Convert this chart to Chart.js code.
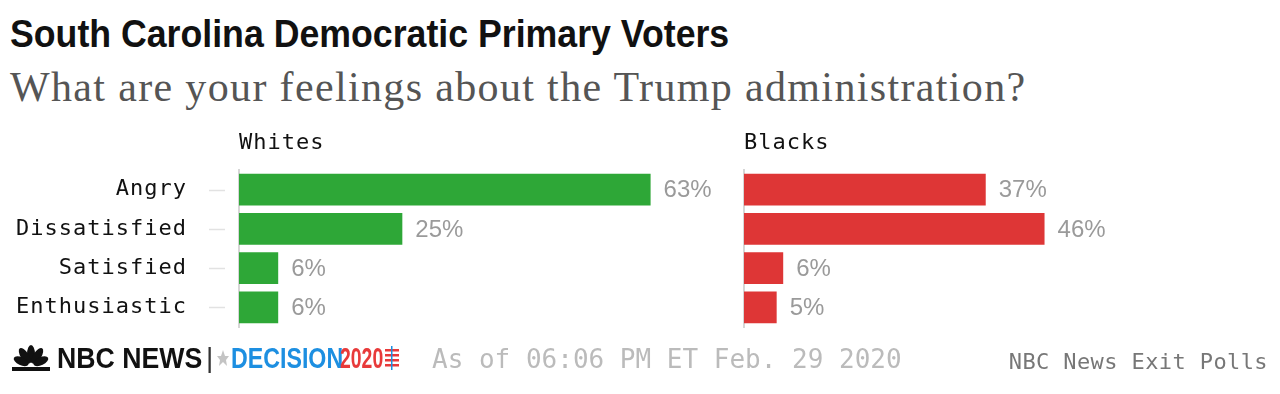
<!DOCTYPE html>
<html>
<head>
<meta charset="utf-8">
<script src="https://cdn.jsdelivr.net/npm/chart.js@4.4.1/dist/chart.umd.min.js"></script>
<style>
  body { margin: 0; width: 1280px; height: 394px; background: #fff; position: relative; overflow: hidden; }
  .title { position: absolute; left: 10px; top: 12px; font: bold 39px "Liberation Sans", sans-serif; color: #111; transform: scaleX(0.915); transform-origin: left top; white-space: nowrap; }
  .subtitle { position: absolute; left: 10px; top: 63px; font: 42px "Liberation Serif", serif; color: #555; letter-spacing: 1.35px; white-space: nowrap; }
  .panel { position: absolute; top: 125px; height: 219px; }
  .footer-logo { position: absolute; left: 10px; top: 343px; height: 30px; display: flex; align-items: center; white-space: nowrap; }
  .sq { display: inline-block; transform-origin: left center; }
  .nbc { font: bold 29px "Liberation Sans", sans-serif; color: #111; margin-left: 5px; }
  .bar { font: 28px "Liberation Sans", sans-serif; color: #333; }
  .dec { font: bold 29px "Liberation Sans", sans-serif; color: #1d8fe1; }
  .yr { font: bold 29px "Liberation Sans", sans-serif; color: #e83a3a; }
  .asof { position: absolute; left: 432px; top: 344px; font: 26px "DejaVu Sans Mono", monospace; color: #bbb; }
  .source { position: absolute; right: 12px; top: 349px; font: 22px "DejaVu Sans Mono", monospace; color: #777; letter-spacing: 0.4px; }
</style>
</head>
<body>
<div class="title">South Carolina Democratic Primary Voters</div>
<div class="subtitle">What are your feelings about the Trump administration?</div>

<div class="panel" style="left:0; width:729px;"><canvas id="whites"></canvas></div>
<div class="panel" style="left:704px; width:530px;"><canvas id="blacks"></canvas></div>

<div class="footer-logo">
  <svg width="42" height="28" viewBox="0 0 42 28">
    <g fill="#111">
      <ellipse cx="21" cy="10" rx="4" ry="9" transform="rotate(0 21 22)"/>
      <ellipse cx="21" cy="10" rx="4" ry="9" transform="rotate(-32 21 22)"/>
      <ellipse cx="21" cy="10" rx="4" ry="9" transform="rotate(32 21 22)"/>
      <ellipse cx="21" cy="11" rx="4" ry="8" transform="rotate(-64 21 22)"/>
      <ellipse cx="21" cy="11" rx="4" ry="8" transform="rotate(64 21 22)"/>
      <rect x="2" y="23" width="38" height="4"/>
    </g>
  </svg>
  <span class="sq nbc" style="width:141px;"><span class="sq" style="transform:scaleX(0.92)">NBC NEWS</span></span>
  <span class="bar" style="margin:0 4px 0 8px;">|</span>
  <svg width="12" height="24" viewBox="0 0 12 24"><polygon points="6,4 8,10 12,10 9,14 10,20 6,16 2,20 3,14 0,10 4,10" fill="#c4c4c4"/></svg>
  <span class="sq dec" style="width:109px; margin-left:2px;"><span class="sq" style="transform:scaleX(0.8)">DECISION</span></span>
  <span class="sq yr" style="width:45px;"><span class="sq" style="transform:scaleX(0.67)">2020</span></span>
  <svg width="14" height="24" viewBox="0 0 14 24">
    <g fill="#e83a3a"><rect y="3" width="14" height="2.5"/><rect y="8" width="14" height="2.5"/><rect y="13" width="14" height="2.5"/><rect y="18" width="14" height="2.5"/></g>
    <rect x="6" y="0" width="1.5" height="24" fill="#1d8fe1"/>
  </svg>
</div>
<div class="asof">As of 06:06 PM ET Feb. 29 2020</div>
<div class="source">NBC News Exit Polls</div>

<script>
const categories = ['Angry', 'Dissatisfied', 'Satisfied', 'Enthusiastic'];
const panelTitles = ['Whites', 'Blacks'];
const whitesValues = [63, 25, 6, 6];
const blacksValues = [37, 46, 6, 5];
const colors = ['#2ea737', '#de3636'];

// espacement des lettres pour les libellés monospace
const spacingPlugin = {
  id: 'spacing',
  beforeDraw(chart) { chart.ctx.letterSpacing = '1px'; }
};

// valeurs à droite des barres + petit tiret + titre du panneau
const decorPlugin = {
  id: 'decor',
  afterDatasetsDraw(chart, args, opts) {
    const ctx = chart.ctx;
    const meta = chart.getDatasetMeta(0);
    const yScale = chart.scales.y;
    ctx.save();
    ctx.letterSpacing = '0px';
    ctx.font = '24px "Liberation Sans", sans-serif';
    ctx.fillStyle = '#9a9a9a';
    ctx.textBaseline = 'middle';
    ctx.textAlign = 'left';
    meta.data.forEach((bar, i) => {
      ctx.fillText(chart.data.datasets[0].data[i] + '%', bar.x + 13, bar.y + 1);
    });
    if (opts.showTicks) {
      ctx.strokeStyle = '#e2e2e2';
      ctx.lineWidth = 1.5;
      categories.forEach((c, i) => {
        const y = Math.round(yScale.getPixelForTick(i)) + 0.5;
        ctx.beginPath();
        ctx.moveTo(chart.chartArea.left - 30, y);
        ctx.lineTo(chart.chartArea.left - 14, y);
        ctx.stroke();
      });
    }
    ctx.letterSpacing = '1px';
    ctx.font = '22px "DejaVu Sans Mono", monospace';
    ctx.fillStyle = '#111';
    ctx.fillText(opts.title, chart.chartArea.left, 18);
    ctx.restore();
  }
};

function makePanel(id, values, color, title, axisWidth, showLabels) {
  return new Chart(document.getElementById(id), {
    type: 'bar',
    data: {
      labels: categories,
      datasets: [{
        data: values,
        backgroundColor: color,
        borderWidth: 0,
        barPercentage: 0.9,
        categoryPercentage: 0.9
      }]
    },
    options: {
      indexAxis: 'y',
      responsive: true,
      maintainAspectRatio: false,
      animation: false,
      layout: { padding: { top: 45, bottom: 17, left: 0, right: 0 } },
      scales: {
        x: { display: false, min: 0, max: 75 },
        y: {
          afterFit(scale) { scale.width = axisWidth; },
          grid: { display: false, drawTicks: true, tickLength: 52 },
          border: { display: true, color: '#d6d6d6', width: 2 },
          ticks: {
            display: showLabels,
            padding: 0,
            color: '#111',
            font: { family: '"DejaVu Sans Mono", monospace', size: 22 }
          }
        }
      },
      plugins: {
        legend: { display: false },
        tooltip: { enabled: false },
        decor: { title: title, showTicks: showLabels }
      }
    },
    plugins: [spacingPlugin, decorPlugin]
  });
}

makePanel('whites', whitesValues, colors[0], panelTitles[0], 239, true);
makePanel('blacks', blacksValues, colors[1], panelTitles[1], 40, false);
</script>
</body>
</html>
